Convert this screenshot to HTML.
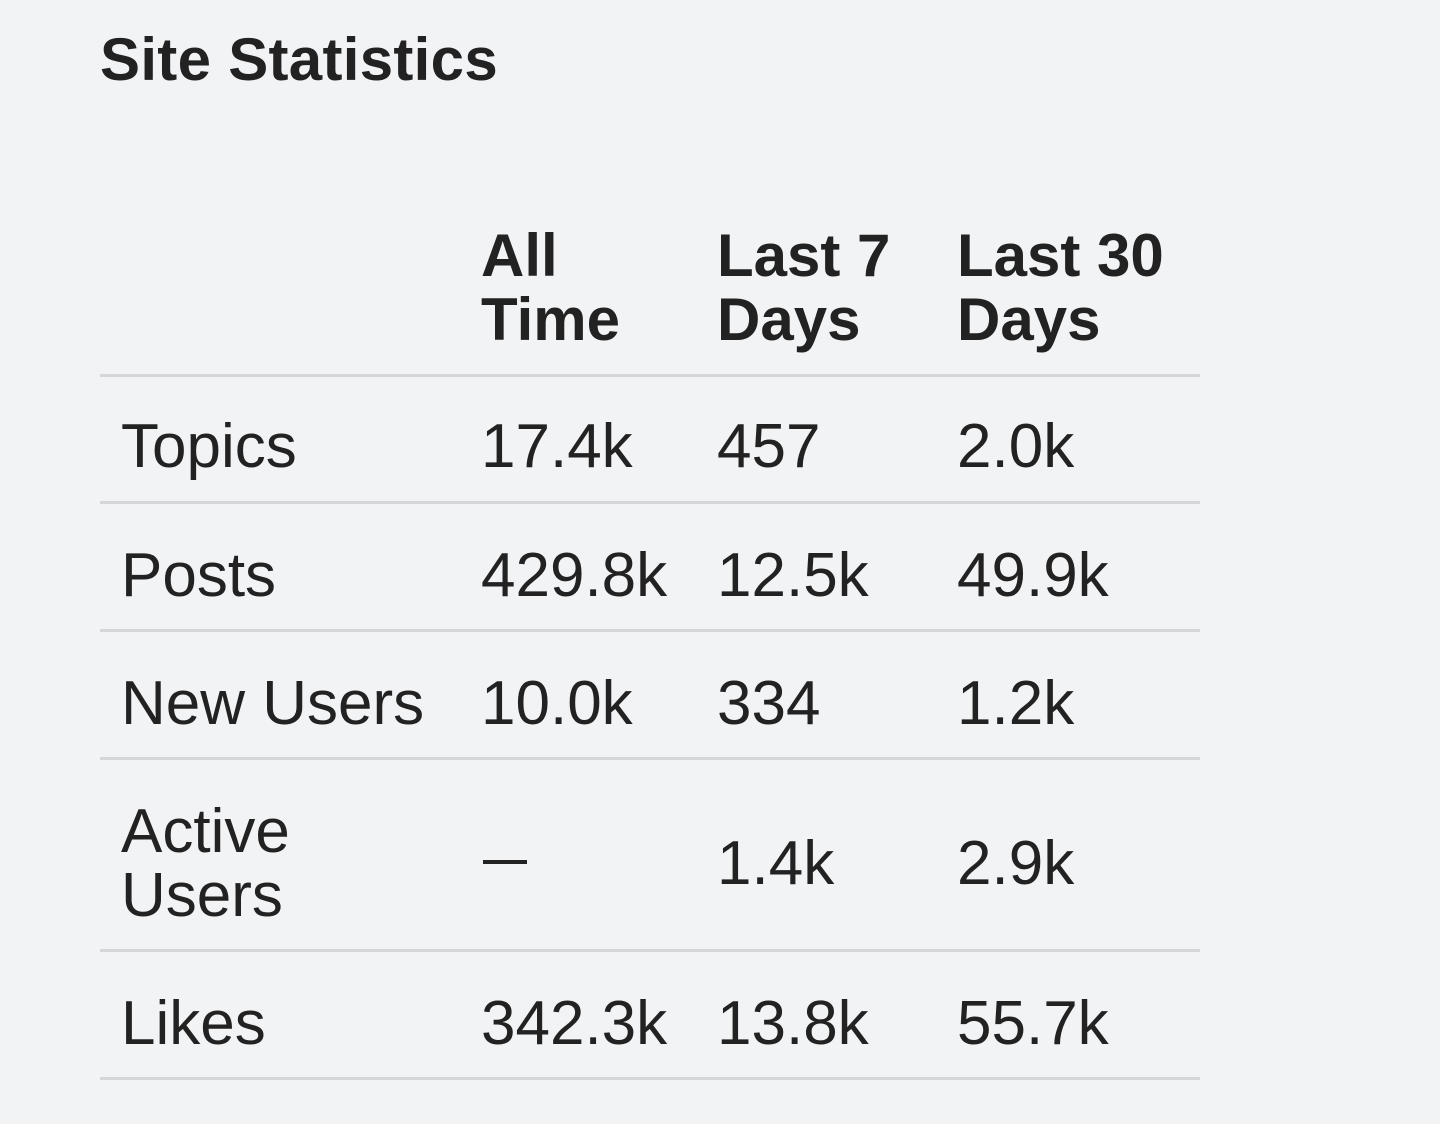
<!DOCTYPE html>
<html><head><meta charset="utf-8"><style>
html,body{margin:0;padding:0;width:1440px;height:1124px;background:#f2f3f5;overflow:hidden}
body{position:relative;font-family:"Liberation Sans",sans-serif;color:#222}
.t{position:absolute;white-space:nowrap;line-height:64px}
.h{font-weight:bold;font-size:60px}
.c{font-size:62px}
.l{position:absolute;left:100px;width:1100px;height:3px;background:#d5d6d8}
</style></head><body>
<div class="t h" style="left:100px;top:28px;font-size:60px;letter-spacing:0.3px">Site Statistics</div>

<div class="t h" style="left:481px;top:224px">All<br>Time</div>
<div class="t h" style="left:717px;top:224px">Last 7<br>Days</div>
<div class="t h" style="left:957px;top:224px">Last 30<br>Days</div>

<div class="l" style="top:374px"></div>
<div class="l" style="top:501px"></div>
<div class="l" style="top:629px"></div>
<div class="l" style="top:757px"></div>
<div class="l" style="top:949px"></div>
<div class="l" style="top:1077px"></div>

<div class="t c" style="left:121px;top:415px">Topics</div>
<div class="t c" style="left:481px;top:415px">17.4k</div>
<div class="t c" style="left:717px;top:415px">457</div>
<div class="t c" style="left:957px;top:415px">2.0k</div>

<div class="t c" style="left:121px;top:544px">Posts</div>
<div class="t c" style="left:481px;top:544px">429.8k</div>
<div class="t c" style="left:717px;top:544px">12.5k</div>
<div class="t c" style="left:957px;top:544px">49.9k</div>

<div class="t c" style="left:121px;top:672px">New Users</div>
<div class="t c" style="left:481px;top:672px">10.0k</div>
<div class="t c" style="left:717px;top:672px">334</div>
<div class="t c" style="left:957px;top:672px">1.2k</div>

<div class="t c" style="left:121px;top:800px">Active<br>Users</div>
<div style="position:absolute;left:483px;top:860px;width:44px;height:4px;background:#222"></div>
<div class="t c" style="left:717px;top:832px">1.4k</div>
<div class="t c" style="left:957px;top:832px">2.9k</div>

<div class="t c" style="left:121px;top:992px">Likes</div>
<div class="t c" style="left:481px;top:992px">342.3k</div>
<div class="t c" style="left:717px;top:992px">13.8k</div>
<div class="t c" style="left:957px;top:992px">55.7k</div>
</body></html>
